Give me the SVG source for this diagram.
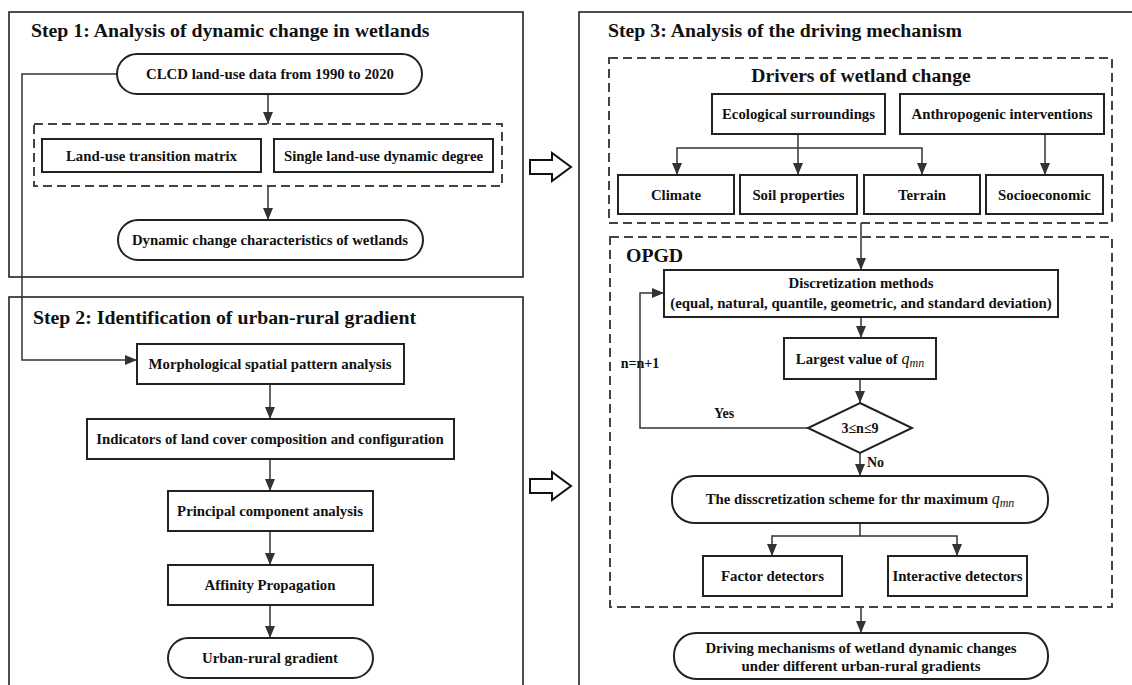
<svg xmlns="http://www.w3.org/2000/svg" width="1132" height="685" viewBox="0 0 1132 685">
<defs>
<marker id="ah" markerUnits="userSpaceOnUse" markerWidth="12" markerHeight="10" refX="12" refY="5" orient="auto">
<path d="M0,0 L12,5 L0,10 z" fill="#333"/>
</marker>
</defs>
<style>
.t{font-family:"Liberation Serif","Times New Roman",serif;font-weight:bold;fill:#111}
.h{font-size:19.8px}
.n{font-size:14.8px;text-anchor:middle}
.box{fill:#fff;stroke:#222;stroke-width:2}
.frame{fill:none;stroke:#222;stroke-width:1.6}
.dash{fill:none;stroke:#444;stroke-width:2;stroke-dasharray:9 5}
.c{fill:none;stroke:#333;stroke-width:1.5}
.a{marker-end:url(#ah)}
.block{fill:#fff;stroke:#111;stroke-width:2}
.m{font-family:"Liberation Serif","DejaVu Serif",serif;font-style:italic;font-weight:normal}
</style>
<rect width="1132" height="685" fill="#fff"/>

<g id="frames">
<rect class="frame" x="9" y="12" width="514" height="265"/>
<rect class="frame" x="9" y="297" width="514" height="420"/>
<rect class="frame" x="579" y="12" width="620" height="720"/>
<text class="t h" x="31" y="37">Step 1: Analysis of dynamic change in wetlands</text>
<text class="t h" x="33" y="324">Step 2: Identification of urban-rural gradient</text>
<text class="t h" x="608" y="37">Step 3: Analysis of the driving mechanism</text>
</g>

<g id="groups">
<rect class="dash" x="34" y="124" width="468" height="62"/>
<rect class="dash" x="609" y="58" width="503" height="165"/>
<text class="t" x="861" y="82" font-size="19.6" text-anchor="middle">Drivers of wetland change</text>
<rect class="dash" x="610" y="237" width="502" height="370"/>
<text class="t h" x="626" y="262">OPGD</text>
</g>

<g id="blockarrows">
<polygon class="block" points="530,160 552,160 552,153 571,167 552,181 552,174 530,174"/>
<polygon class="block" points="530,479 552,479 552,472 571,486 552,500 552,493 530,493"/>
</g>

<g id="connectors">
<path class="c a" d="M268,94 V124"/>
<path class="c a" d="M268,186 V220"/>
<path class="c a" d="M117,74 H22 V360 H137"/>
<path class="c a" d="M270,384 V419"/>
<path class="c a" d="M270,459 V491"/>
<path class="c a" d="M270,531 V565"/>
<path class="c a" d="M270,605 V638"/>
<path class="c a" d="M798,134 V148 H677 V175"/>
<path class="c a" d="M798,148 V175"/>
<path class="c a" d="M798,148 H922 V175"/>
<path class="c a" d="M1045,134 V175"/>
<path class="c a" d="M861,223 V270"/>
<path class="c a" d="M861,317 V338"/>
<path class="c a" d="M860,379 V403"/>
<path class="c a" d="M808,428 H640 V293 H664"/>
<path class="c a" d="M860,453 V476"/>
<path class="c a" d="M860,523 V536 H772 V556"/>
<path class="c a" d="M860,536 H957 V556"/>
<path class="c a" d="M861,607 V633"/>
<text class="t" x="724" y="418" font-size="14" text-anchor="middle">Yes</text>
<text class="t" x="640" y="368" font-size="14" text-anchor="middle">n=n+1</text>
<text class="t" x="867" y="467" font-size="14">No</text>
</g>

<g id="clcd"><rect class="box" x="117" y="54" width="305" height="40" rx="20"/><text class="t n" x="270" y="79">CLCD land-use data from 1990 to 2020</text></g>
<g id="transition"><rect class="box" x="42" y="139" width="219" height="33"/><text class="t n" x="151.5" y="160.5">Land-use transition matrix</text></g>
<g id="dynamic-degree"><rect class="box" x="274" y="139" width="219" height="33"/><text class="t n" x="383.5" y="160.5">Single land-use dynamic degree</text></g>
<g id="dynamic-change"><rect class="box" x="118" y="220" width="305" height="40" rx="20"/><text class="t n" x="270" y="245">Dynamic change characteristics of wetlands</text></g>

<g id="mspa"><rect class="box" x="137" y="344" width="267" height="40"/><text class="t n" x="270" y="369">Morphological spatial pattern analysis</text></g>
<g id="indicators"><rect class="box" x="87" y="419" width="367" height="40"/><text class="t n" x="270" y="444">Indicators of land cover composition and configuration</text></g>
<g id="pca"><rect class="box" x="168" y="491" width="205" height="40"/><text class="t n" x="270" y="516">Principal component analysis</text></g>
<g id="ap"><rect class="box" x="168" y="565" width="205" height="40"/><text class="t n" x="270" y="590">Affinity Propagation</text></g>
<g id="gradient"><rect class="box" x="168" y="638" width="205" height="40" rx="20"/><text class="t n" x="270" y="663">Urban-rural gradient</text></g>

<g id="eco"><rect class="box" x="712" y="94" width="173" height="40"/><text class="t n" x="798.5" y="119">Ecological surroundings</text></g>
<g id="anthro"><rect class="box" x="900" y="94" width="204" height="40"/><text class="t n" x="1002" y="119">Anthropogenic interventions</text></g>
<g id="climate"><rect class="box" x="618" y="175" width="116" height="39"/><text class="t n" x="676" y="199.5">Climate</text></g>
<g id="soil"><rect class="box" x="740" y="175" width="117" height="39"/><text class="t n" x="798.5" y="199.5">Soil properties</text></g>
<g id="terrain"><rect class="box" x="864" y="175" width="116" height="39"/><text class="t n" x="922" y="199.5">Terrain</text></g>
<g id="socio"><rect class="box" x="986" y="175" width="117" height="39"/><text class="t n" x="1044.5" y="199.5">Socioeconomic</text></g>

<g id="discretization"><rect class="box" x="664" y="270" width="394" height="47"/><text class="t n" x="861" y="288">Discretization methods</text><text class="t n" x="861" y="308">(equal, natural, quantile, geometric, and standard deviation)</text></g>
<g id="largest"><rect class="box" x="784" y="338" width="152" height="41"/><text class="t n" x="860" y="364">Largest value of <tspan class="m" font-size="16">q</tspan><tspan class="m" font-size="12" dy="3">mn</tspan></text></g>
<g id="decision"><polygon class="box" points="860,403 912,428 860,453 808,428"/><text class="t" x="860" y="433" font-size="14" text-anchor="middle">3≤n≤9</text></g>
<g id="scheme"><rect class="box" x="672" y="476" width="376" height="47" rx="22"/><text class="t n" x="860" y="504">The disscretization scheme for thr maximum <tspan class="m" font-size="16">q</tspan><tspan class="m" font-size="12" dy="3">mn</tspan></text></g>
<g id="factor"><rect class="box" x="703" y="556" width="139" height="40"/><text class="t n" x="772.5" y="581">Factor detectors</text></g>
<g id="interactive"><rect class="box" x="888" y="556" width="139" height="40"/><text class="t n" x="957.5" y="581">Interactive detectors</text></g>
<g id="mechanisms"><rect class="box" x="674" y="633" width="374" height="46" rx="22"/><text class="t n" x="861" y="653">Driving mechanisms of wetland dynamic changes</text><text class="t n" x="861" y="671">under different urban-rural gradients</text></g>
</svg>
